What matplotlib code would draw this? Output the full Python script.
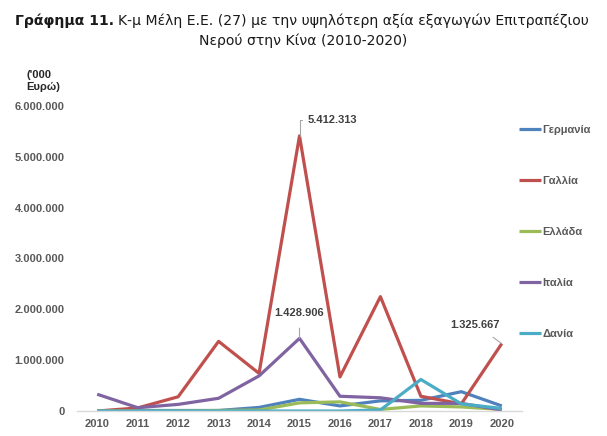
import matplotlib.pyplot as plt
from matplotlib.ticker import FuncFormatter

plt.rcParams['font.family'] = ['Liberation Sans', 'DejaVu Sans']

years = [2010, 2011, 2012, 2013, 2014, 2015, 2016, 2017, 2018, 2019, 2020]

germany = [0, 10000, 10000, 10000, 70000, 230000, 100000, 200000, 210000, 380000, 100000]
france = [0, 60000, 280000, 1370000, 740000, 5412313, 670000, 2250000, 290000, 140000, 1325667]
greece = [0, 0, 0, 10000, 20000, 160000, 180000, 30000, 100000, 80000, 30000]
italy = [330000, 65000, 130000, 250000, 690000, 1428906, 290000, 260000, 150000, 150000, 20000]
denmark = [0, 0, 0, 0, 0, 0, 0, 20000, 620000, 140000, 50000]

series_names = ['Γερμανία', 'Γαλλία', 'Ελλάδα', 'Ιταλία', 'Δανία']
series_values = [germany, france, greece, italy, denmark]
colors = ['#4F81BD', '#C0504D', '#9BBB59', '#8064A2', '#4BACC6']

grey = '#595959'

fig = plt.figure(figsize=(6.07, 4.36), dpi=100)
ax = fig.add_axes([77 / 607, 25 / 436, 445 / 607, 305 / 436])

for name, vals, c in zip(series_names, series_values, colors):
    ax.plot(years, vals, color=c, linewidth=2.3, label=name, solid_capstyle='butt')

ax.set_xlim(2009.5, 2020.5)
ax.set_ylim(0, 6000000)
ax.set_xticks(years)
ax.set_yticks(range(0, 6000001, 1000000))
ax.yaxis.set_major_formatter(FuncFormatter(lambda v, p: f'{int(v):,}'.replace(',', '.')))

for s in ['top', 'right', 'left']:
    ax.spines[s].set_visible(False)
ax.spines['bottom'].set_color('#D9D9D9')
ax.spines['bottom'].set_linewidth(1)
ax.tick_params(axis='both', length=0, labelsize=8, labelcolor=grey)
ax.tick_params(axis='x', pad=6)
ax.tick_params(axis='y', pad=9)
for lbl in ax.get_xticklabels() + ax.get_yticklabels():
    lbl.set_fontweight('bold')

# data labels
lbl_kw = dict(fontsize=8, fontweight='bold', color='#404040')
ax.annotate('5.412.313', xy=(2015, france[5]), xytext=(2015.2, 5730000),
            ha='left', va='center', **lbl_kw,
            arrowprops=dict(arrowstyle='-', color='#A6A6A6', lw=0.8,
                            connectionstyle='angle,angleA=0,angleB=90,rad=0',
                            shrinkA=2, shrinkB=0))
ax.annotate('1.428.906', xy=(2015, italy[5]), xytext=(2015, 1920000),
            ha='center', va='center', **lbl_kw,
            arrowprops=dict(arrowstyle='-', color='#A6A6A6', lw=0.8, shrinkA=5, shrinkB=0))
ax.annotate('1.325.667', xy=(2020, france[10]), xytext=(2019.35, 1700000),
            ha='center', va='center', **lbl_kw,
            arrowprops=dict(arrowstyle='-', color='#A6A6A6', lw=0.8, shrinkA=6, shrinkB=0))

leg = fig.legend(loc='upper left', bbox_to_anchor=(519 / 607, 1 - 125 / 436), frameon=False,
                 fontsize=8, handlelength=2.0, handletextpad=0.1, labelspacing=3.68,
                 borderaxespad=0, borderpad=0)
for t in leg.get_texts():
    t.set_color(grey)
    t.set_fontweight('bold')

# title: bold part followed by normal part on the same line
tfont = dict(fontsize=10.1, family=['DejaVu Sans'], va='center', color='#1a1a1a')
t1 = fig.text(15 / 607, 1 - 21 / 436, 'Γράφημα 11.', fontweight='bold', ha='left', **tfont)
r = fig.canvas.get_renderer()
bb = t1.get_window_extent(renderer=r)
fig.text((bb.x1 + 4) / fig.bbox.width, 1 - 21 / 436,
         'Κ-μ Μέλη Ε.Ε. (27) με την υψηλότερη αξία εξαγωγών Επιτραπέζιου',
         ha='left', **tfont)
fig.text(0.5, 1 - 41 / 436, 'Νερού στην Κίνα (2010-2020)', ha='center', **tfont)

fig.text(26 / 607, 1 - 81 / 436, "('000\nΕυρώ)", fontsize=8, fontweight='bold',
         ha='left', va='center', linespacing=1.35, color='#262626')

fig.savefig('out.png', dpi=100)
